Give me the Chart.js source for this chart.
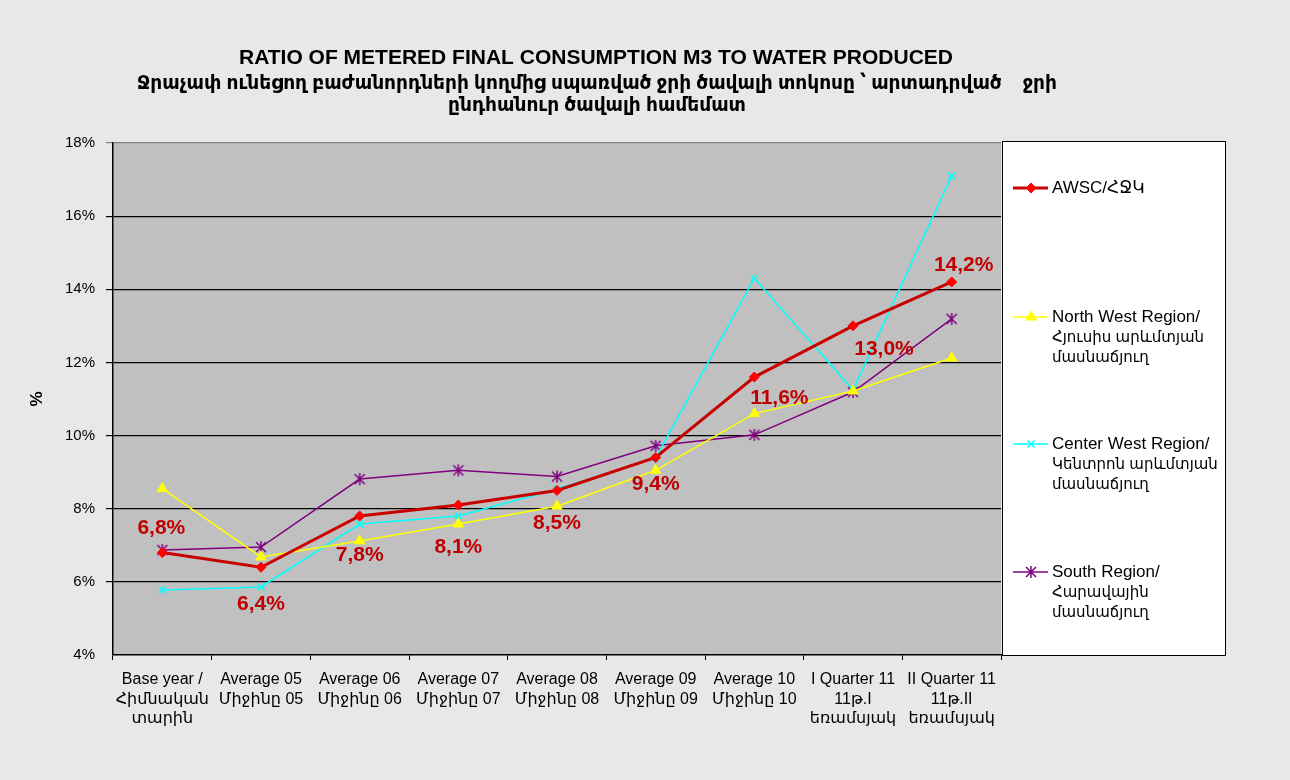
<!DOCTYPE html>
<html>
<head>
<meta charset="utf-8">
<script src="https://cdn.jsdelivr.net/npm/chart.js@4"></script>
<style>
  body { margin: 0; background: #e8e8e8; }
  #wrap { width: 1290px; height: 780px; }
</style>
</head>
<body>
<div id="wrap"><canvas id="ratioChart" width="1290" height="780"></canvas></div>
<script>
// data
const categories = [
  ['Base year /', 'Հիմնական', 'տարին'],
  ['Average 05', 'Միջինը 05'],
  ['Average 06', 'Միջինը 06'],
  ['Average 07', 'Միջինը 07'],
  ['Average 08', 'Միջինը 08'],
  ['Average 09', 'Միջինը 09'],
  ['Average 10', 'Միջինը 10'],
  ['I Quarter 11', '11թ.I', 'եռամսյակ'],
  ['II Quarter 11', '11թ.II', 'եռամսյակ']
];
const awsc      = [6.8, 6.4, 7.8, 8.1, 8.5, 9.4, 11.6, 13.0, 14.2];
const northWest = [8.55, 6.68, 7.12, 7.58, 8.07, 9.05, 10.6, 11.22, 12.12];
const centerWest = [5.78, 5.86, 7.58, 7.8, 8.54, 9.39, 14.3, 11.25, 17.1];
const south     = [6.87, 6.95, 8.81, 9.05, 8.88, 9.72, 10.02, 11.19, 13.19];
const yTicks = [4, 6, 8, 10, 12, 14, 16, 18];

const seriesNames = [
  ['AWSC/ՀՋԿ'],
  ['North West Region/', 'Հյուսիս արևմտյան', 'մասնաճյուղ'],
  ['Center West Region/', 'Կենտրոն արևմտյան', 'մասնաճյուղ'],
  ['South Region/', 'Հարավային', 'մասնաճյուղ']
];
const titleLines = [
  'RATIO OF METERED FINAL CONSUMPTION M3 TO WATER PRODUCED',
  'Ջրաչափ ունեցող բաժանորդների կողմից սպառված ջրի ծավալի տոկոսը ՝ արտադրված    ջրի',
  'ընդհանուր ծավալի համեմատ'
];

const FONT = "Arial, 'Liberation Sans', 'DejaVu Sans', 'Noto Sans', sans-serif";

// label offsets for the AWSC values (moved by hand in the original)
const labelShift = [[-1,-24],[0,37],[0,39],[0,42],[0,33],[0,27],[25,21],[31,23],[12,-17]];

// six-spoke asterisk like the spreadsheet marker
function asterisk(color, r) {
  const c = document.createElement('canvas');
  c.width = c.height = r * 2 + 4;
  const g = c.getContext('2d');
  const m = r + 2;
  g.strokeStyle = color;
  g.lineWidth = 1.5;
  g.beginPath();
  g.moveTo(m - r, m - r); g.lineTo(m + r, m + r);
  g.moveTo(m + r, m - r); g.lineTo(m - r, m + r);
  g.moveTo(m, m - r - 1); g.lineTo(m, m + r + 1);
  g.stroke();
  return c;
}
const southMark = asterisk('#800080', 5);

const plotBg = {
  id: 'plotBg',
  beforeDraw(chart) {
    const {ctx, chartArea: a} = chart;
    ctx.save();
    ctx.fillStyle = '#c0c0c0';
    ctx.fillRect(a.left, a.top, a.right - a.left, a.bottom - a.top);
    ctx.restore();
  }
};

const extras = {
  id: 'extras',
  afterDraw(chart) {
    const ctx = chart.ctx;
    const a = chart.chartArea;
    ctx.save();
    // title
    ctx.fillStyle = '#000';
    ctx.textAlign = 'center';
    ctx.textBaseline = 'middle';
    ctx.font = 'bold 21px ' + FONT;
    ctx.fillText(titleLines[0], 596, 58);
    ctx.font = 'bold 18.6px ' + FONT;
    ctx.fillText(titleLines[1], 597, 84);
    ctx.fillText(titleLines[2], 597, 106);

    // data labels of AWSC
    const meta = chart.getDatasetMeta(0);
    ctx.font = 'bold 21px ' + FONT;
    ctx.fillStyle = '#c00000';
    meta.data.forEach((pt, i) => {
      const v = awsc[i].toFixed(1).replace('.', ',') + '%';
      ctx.fillText(v, pt.x + labelShift[i][0], pt.y + labelShift[i][1]);
    });

    // legend box
    const lx = a.right + 1, ly = 141, lw = 223, lh = a.bottom - 141;
    ctx.fillStyle = '#fff';
    ctx.fillRect(lx, ly, lw, lh);
    ctx.strokeStyle = '#000';
    ctx.lineWidth = 1;
    ctx.strokeRect(lx + 0.5, ly + 0.5, lw, lh);
    const rowY = [188, 317, 444, 572];
    ctx.textAlign = 'left';
    chart.data.datasets.forEach((ds, i) => {
      const y = rowY[i];
      ctx.strokeStyle = ds.borderColor;
      ctx.lineWidth = ds.borderWidth;
      ctx.beginPath();
      ctx.moveTo(lx + 11, y);
      ctx.lineTo(lx + 46, y);
      ctx.stroke();
      ctx.fillStyle = ds.pointBackgroundColor;
      ctx.strokeStyle = ds.pointBorderColor;
      ctx.lineWidth = ds.pointBorderWidth;
      Chart.helpers.drawPoint(ctx, {
        pointStyle: ds.pointStyle,
        radius: ds.pointRadius,
        borderWidth: ds.pointBorderWidth,
        rotation: 0
      }, lx + 29, y);
      ctx.fillStyle = '#000';
      seriesNames[i].forEach((t, k) => {
        ctx.font = (k === 0 ? '17px ' : '15px ') + FONT;
        ctx.fillText(t, lx + 50, y + k * 20.5);
      });
    });
    ctx.restore();
  }
};

new Chart(document.getElementById('ratioChart'), {
  type: 'line',
  data: {
    labels: categories,
    datasets: [
      {
        label: seriesNames[0].join(' '),
        data: awsc,
        borderColor: '#c80000',
        borderWidth: 3,
        pointStyle: 'rectRot',
        pointRadius: 5,
        pointBackgroundColor: '#ff0000',
        pointBorderColor: '#ff0000',
        pointBorderWidth: 1
      },
      {
        label: seriesNames[1].join(' '),
        data: northWest,
        borderColor: '#ffff00',
        borderWidth: 1.5,
        pointStyle: 'triangle',
        pointRadius: 6,
        pointBackgroundColor: '#ffff00',
        pointBorderColor: '#ffff00',
        pointBorderWidth: 1
      },
      {
        label: seriesNames[2].join(' '),
        data: centerWest,
        borderColor: '#00ffff',
        borderWidth: 1.5,
        pointStyle: 'crossRot',
        pointRadius: 5,
        pointBackgroundColor: '#00ffff',
        pointBorderColor: '#00ffff',
        pointBorderWidth: 1.5
      },
      {
        label: seriesNames[3].join(' '),
        data: south,
        borderColor: '#800080',
        borderWidth: 1.5,
        pointStyle: southMark,
        pointRadius: 5,
        pointBackgroundColor: '#800080',
        pointBorderColor: '#800080',
        pointBorderWidth: 1.5
      }
    ]
  },
  options: {
    responsive: false,
    animation: false,
    layout: { padding: { left: 0, top: 143, right: 289, bottom: 0 } },
    plugins: {
      legend: { display: false },
      tooltip: { enabled: false }
    },
    elements: { line: { tension: 0 } },
    scales: {
      x: {
        offset: true,
        afterFit(s) { s.height = 125; },
        grid: {
          offset: true,
          drawOnChartArea: false,
          drawTicks: true,
          tickLength: 5,
          color: '#000'
        },
        border: { color: '#000', width: 1.5 },
        ticks: {
          color: '#000',
          font: { family: FONT, size: 16, lineHeight: 1.22 },
          padding: 10,
          maxRotation: 0,
          autoSkip: false
        }
      },
      y: {
        min: yTicks[0],
        max: yTicks[yTicks.length - 1],
        afterFit(s) { s.width = 113; },
        afterBuildTicks(s) { s.ticks = yTicks.map(v => ({ value: v })); },
        grid: {
          color: c => (c.tick && c.tick.value === 18) ? '#808080' : '#000',
          lineWidth: c => (c.tick && c.tick.value === 4) ? 0 : 1.2,
          drawTicks: true,
          tickLength: 7
        },
        border: { color: '#000', width: 1.5 },
        title: {
          display: true,
          text: '%',
          color: '#000',
          font: { family: FONT, size: 17, weight: 'bold' },
          padding: { top: 27 }
        },
        ticks: {
          color: '#000',
          font: { family: FONT, size: 15 },
          padding: 11,
          callback: v => v + '%'
        }
      }
    }
  },
  plugins: [plotBg, extras]
});
</script>
</body>
</html>
